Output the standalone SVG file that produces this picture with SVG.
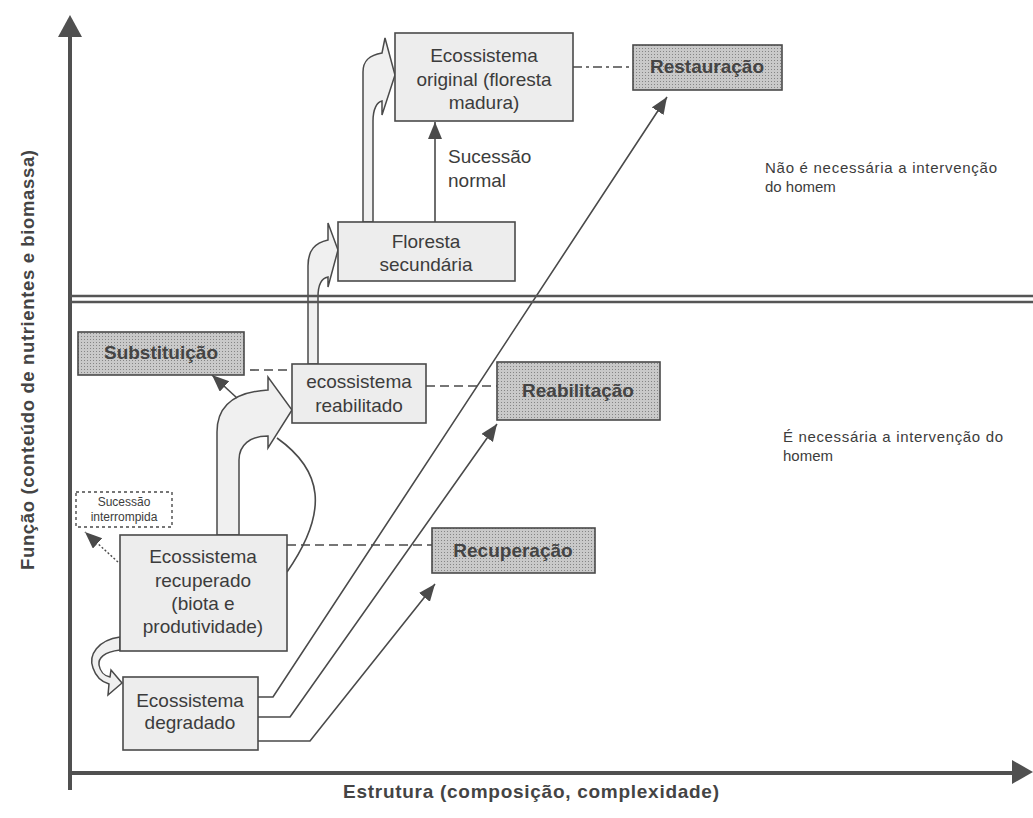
<svg xmlns="http://www.w3.org/2000/svg" width="1033" height="818" viewBox="0 0 1033 818">
<style>
text{font-family:"Liberation Sans",Arial,sans-serif;fill:#3c3c3c}
.box{fill:#ededed;stroke:#4a4a4a;stroke-width:1.6}
.gbox{fill:url(#dots);stroke:#4a4a4a;stroke-width:1.6}
.t{font-size:19px;text-anchor:middle}
.b{font-size:19px;font-weight:bold;text-anchor:middle;fill:#444}
.note{font-size:15px}
.ln{fill:none;stroke:#4a4a4a;stroke-width:1.6}
.dash{fill:none;stroke:#4a4a4a;stroke-width:1.6;stroke-dasharray:9,5}
.wide{fill:#f0f0f0;stroke:#4a4a4a;stroke-width:1.5;stroke-linejoin:miter}
.axis{fill:none;stroke:#505050;stroke-width:4}
</style>
<defs>
<pattern id="dots" width="3" height="3" patternUnits="userSpaceOnUse">
<rect width="3" height="3" fill="#c9c9c9"/>
<rect width="1" height="1" fill="#858585"/>
</pattern>
<marker id="ah" markerUnits="userSpaceOnUse" markerWidth="20" markerHeight="16" refX="17" refY="7" orient="auto">
<path d="M0,0 L17,7 L0,14 Z" fill="#4a4a4a"/>
</marker>
</defs>

<!-- axes -->
<g id="axes">
<line class="axis" x1="70" y1="790" x2="70" y2="34"/>
<path d="M70,15 L58,37 L82,37 Z" fill="#505050"/>
<line class="axis" x1="68" y1="773" x2="1014" y2="773"/>
<path d="M1033,772 L1012,760 L1012,784 Z" fill="#505050"/>
<text x="0" y="0" transform="translate(34,360) rotate(-90)" style="font-size:18.5px;font-weight:bold;text-anchor:middle;fill:#444" textLength="420">Função (conteúdo de nutrientes e biomassa)</text>
<text x="531" y="798" style="font-size:19px;font-weight:bold;text-anchor:middle;fill:#444" textLength="376">Estrutura (composição, complexidade)</text>
</g>

<!-- connectors -->
<g id="connectors">
<path class="wide" d="M217,535 L217,432 C217,405 235,392 268,390 L268,377 L292,410 L268,448 L268,436 C250,436 239,445 239,460 L239,535 Z"/>
<path class="ln" d="M287,572 C330,510 322,470 277,438"/>
<path class="wide" d="M308,364 L308,266 C308,250 315,243 328,240 L328,223 L338,250 L328,287 L328,277 C322,278 318,284 318,297 L318,364 Z"/>
<path class="wide" d="M363,222 L363,72 C363,60 370,55 382,53 L385,38 L395,75 L382,115 L382,101 C377,102 373,109 373,121 L373,222 Z"/>
<path class="wide" d="M120,637 C98,640 88,655 93,668 C96,677 102,682 109,684 L108,695 L122,683 L111,670 L110,677 C104,676 100,671 99,665 C98,658 104,652 120,650 Z"/>

<line class="ln" x1="435" y1="222" x2="435" y2="122" marker-end="url(#ah)"/>
<line class="ln" x1="237" y1="398" x2="212" y2="375" marker-end="url(#ah)"/>
<line x1="118" y1="562" x2="85" y2="532" stroke="#4a4a4a" stroke-width="1.4" stroke-dasharray="2,2" marker-end="url(#ah)"/>

<path class="ln" d="M258,697 L273,697 L667,97" marker-end="url(#ah)"/>
<path class="ln" d="M258,717 L290,717 L497,424" marker-end="url(#ah)"/>
<path class="ln" d="M258,741 L310,741 L435,584" marker-end="url(#ah)"/>

<line fill="none" stroke="#4a4a4a" stroke-width="1.6" stroke-dasharray="9,4,3,4" x1="573" y1="67" x2="633" y2="67"/>
<line class="dash" x1="250" y1="370" x2="292" y2="370"/>
<line class="dash" x1="426" y1="386" x2="497" y2="386"/>
<line class="dash" x1="287" y1="545" x2="432" y2="545"/>
</g>

<!-- divider -->
<g id="divider">
<line x1="70" y1="296" x2="1033" y2="296" stroke="#555" stroke-width="2.6"/>
<line x1="70" y1="302" x2="1033" y2="302" stroke="#555" stroke-width="2.6"/>
</g>

<g id="original">
<rect class="box" x="395" y="33" width="178" height="88"/>
<text class="t" x="484" y="62">Ecossistema</text>
<text class="t" x="484" y="86">original (floresta</text>
<text class="t" x="484" y="109">madura)</text>
</g>
<g id="restauracao">
<rect class="gbox" x="633" y="45" width="149" height="45"/>
<text class="b" x="707" y="73">Restauração</text>
</g>
<g id="sucessao-normal">
<text x="448" y="163" style="font-size:19px">Sucessão</text>
<text x="448" y="187" style="font-size:19px">normal</text>
</g>
<g id="secundaria">
<rect class="box" x="338" y="222" width="177" height="59"/>
<text class="t" x="426" y="248">Floresta</text>
<text class="t" x="426" y="271">secundária</text>
</g>
<g id="nota-sem">
<text class="note" x="765" y="173" textLength="232">Não é necessária a intervenção</text>
<text class="note" x="765" y="192">do homem</text>
</g>
<g id="substituicao">
<rect class="gbox" x="78" y="332" width="166" height="43"/>
<text class="b" x="161" y="359">Substituição</text>
</g>
<g id="reabilitado">
<rect class="box" x="292" y="364" width="134" height="59"/>
<text class="t" x="359" y="388">ecossistema</text>
<text class="t" x="359" y="412">reabilitado</text>
</g>
<g id="reabilitacao">
<rect class="gbox" x="497" y="362" width="163" height="58"/>
<text class="b" x="578" y="397">Reabilitação</text>
</g>
<g id="nota-com">
<text class="note" x="783" y="442" textLength="220">É necessária a intervenção do</text>
<text class="note" x="783" y="461">homem</text>
</g>
<g id="interrompida">
<rect x="76" y="492" width="96" height="35" fill="#fff" stroke="#4a4a4a" stroke-width="1.4" stroke-dasharray="3,3"/>
<text x="124" y="506" style="font-size:12px;text-anchor:middle">Sucessão</text>
<text x="124" y="521" style="font-size:12px;text-anchor:middle">interrompida</text>
</g>
<g id="recuperado">
<rect class="box" x="120" y="535" width="167" height="116"/>
<text class="t" x="203" y="563">Ecossistema</text>
<text class="t" x="203" y="587">recuperado</text>
<text class="t" x="203" y="610">(biota e</text>
<text class="t" x="203" y="633">produtividade)</text>
</g>
<g id="recuperacao">
<rect class="gbox" x="432" y="528" width="163" height="45"/>
<text class="b" x="513" y="557">Recuperação</text>
</g>
<g id="degradado">
<rect class="box" x="123" y="677" width="135" height="73"/>
<text class="t" x="190" y="707">Ecossistema</text>
<text class="t" x="190" y="729">degradado</text>
</g>
</svg>
